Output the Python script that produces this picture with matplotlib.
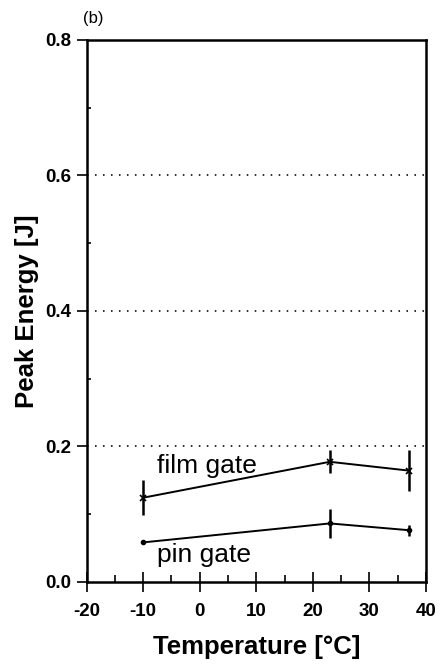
import matplotlib
matplotlib.use("Agg")
import matplotlib.pyplot as plt
from matplotlib.ticker import MultipleLocator

plt.rcParams['font.family'] = ['Liberation Sans', 'DejaVu Sans']

temps = [-10, 23, 37]
film_gate = [0.124, 0.177, 0.164]
film_err = [0.026, 0.017, 0.030]
pin_gate = [0.058, 0.086, 0.076]
pin_err = [0.002, 0.021, 0.008]

xticks = [-20, -10, 0, 10, 20, 30, 40]
yticks = [0.0, 0.2, 0.4, 0.6, 0.8]
grid_levels = [0.2, 0.4, 0.6]

fig = plt.figure(figsize=(4.4, 6.65), dpi=100)
ax = fig.add_axes([0.197, 0.1253, 0.771, 0.8147])

for g in grid_levels:
    ax.axhline(g, color='black', linestyle=(0, (1, 4)), linewidth=1.15, zorder=1)

ax.errorbar(temps, film_gate, yerr=film_err, color='black', lw=1.4, marker='x',
            ms=5, mew=1.2, elinewidth=1.8, capsize=0, zorder=3)
ax.errorbar(temps, pin_gate, yerr=pin_err, color='black', lw=1.4, marker='o',
            ms=3, elinewidth=1.8, capsize=0, zorder=3)

ax.text(-7.6, 0.160, 'film gate', fontsize=19, ha='left', va='baseline')
ax.text(-7.6, 0.0297, 'pin gate', fontsize=19, ha='left', va='baseline')

ax.set_xlim(-20, 40)
ax.set_ylim(0, 0.8)
ax.set_xticks(xticks)
ax.set_yticks(yticks)
ax.set_xticklabels([str(v) for v in xticks])
ax.set_yticklabels([f'{v:.1f}' for v in yticks])
ax.xaxis.set_minor_locator(MultipleLocator(5))
ax.yaxis.set_minor_locator(MultipleLocator(0.1))
ax.tick_params(axis='x', which='major', direction='inout', length=15, width=1.2,
               labelsize=13.5, pad=8)
ax.tick_params(axis='x', which='minor', direction='in', length=5, width=1.2)
ax.tick_params(axis='y', which='major', direction='out', length=7, width=1.2,
               labelsize=13.5, pad=4)
ax.tick_params(axis='y', which='minor', direction='in', length=3, width=1.2)
for lab in ax.get_xticklabels() + ax.get_yticklabels():
    lab.set_fontweight('bold')

for s in ax.spines.values():
    s.set_linewidth(1.8)

axc = 0.197 + 0.771 / 2
fig.text(axc, 0.0165, 'Temperature [°C]', fontsize=18.5, fontweight='bold',
         ha='center', va='baseline')
fig.text(0.061, 0.1253 + 0.8147 / 2, 'Peak Energy [J]', fontsize=18.5,
         fontweight='bold', ha='center', va='center', rotation=90)

fig.text(93 / 440, 1 - 18 / 665, '(b)', fontsize=12, ha='center', va='center')

fig.savefig('out.png', dpi=100)
